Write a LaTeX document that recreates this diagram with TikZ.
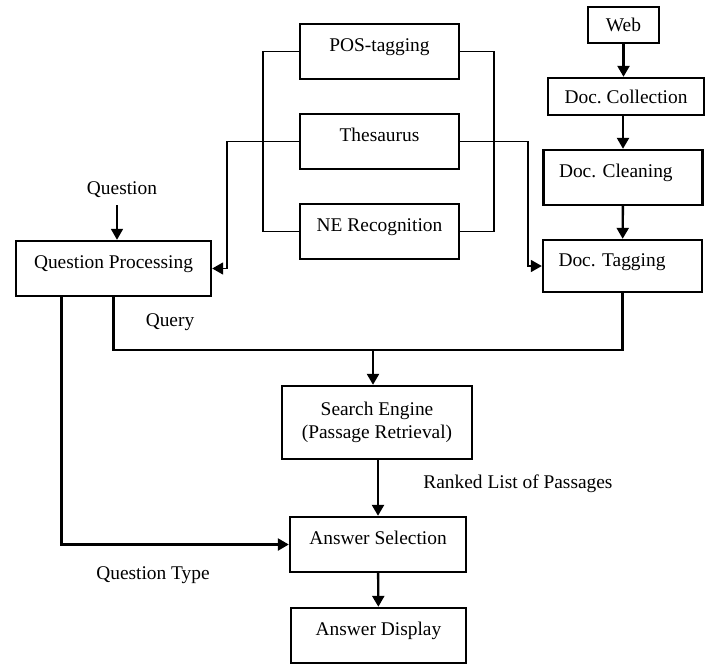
\documentclass[tikz,border=0pt]{standalone}
\usepackage{fontspec}
\setmainfont{Liberation Serif}
\usetikzlibrary{arrows.meta,positioning}

\begin{document}
\begin{tikzpicture}[x=0.5pt,y=-0.5pt,>={Triangle[length=5.5pt,width=6pt]},node distance=45pt,on grid,font=\fontsize{9.7}{11.5}\selectfont]
\tikzstyle{box} = [rectangle,draw=black,line width=1.2pt,inner sep=0pt]
\tikzstyle{tool} = [box,minimum width=79.5pt,minimum height=27.5pt,text height=1ex,text depth=1ex]
\tikzstyle{doc} = [tool,text width=64pt,align=left,inner xsep=7.5pt]
\useasboundingbox (0,0) rectangle (705,664);
    \node[tool] (pos) at (379.5,51.5) {POS-tagging};
    \node[tool] (thes) [below =of pos] {Thesaurus};
    \node[tool] (ne) [below =of thes] {NE Recognition};

    \node[box,minimum width=35.5pt,minimum height=18pt] (web) at (623.5,25) {Web};
    \node[box,minimum width=78pt,minimum height=18.5pt] (coll) at (626,96.5) {Doc.\ Collection};
    \node[doc] (clean) at (623,177.5) {Doc.\ Cleaning};
    \node[doc,minimum height=26pt] (tag) at (622.5,266) {Doc.\ Tagging};

    \node (question) at (122,190) {Question};
    \node[tool,minimum width=97.5pt] (qp) at (113.5,268.5) {Question Processing};
    \node[box,minimum width=95pt,minimum height=36.5pt,align=center] (search) at (377,422.5) {Search Engine\\(Passage Retrieval)};
    \node[tool,minimum width=88pt] (as) at (378,544.5) {Answer Selection};
    \node[tool,minimum width=87.5pt] (ad) at (378.5,635.5) {Answer Display};

    \node (query) at (170,322) {Query};
    \node (qtype) at (153,575) {Question Type};
    \node[anchor=west,inner sep=0pt] (ranked) at (423,484) {Ranked List of Passages};
    \coordinate (join) at (373,350);

    \tikzset{link/.style={line width=0.85pt}}
    \tikzset{arrow/.style={->,line width=1.2pt}}
    % tools feeding both sides
    \draw[link] (pos.west) -- ++(-36,0) |- (ne.west);
    \draw[link] (pos.east) -- ++(34,0) |- (ne.east);
    \draw[link,->] (thes.west) -- ++(-72,0) |- (qp.east);
    \draw[link,->] (thes.east) -- ++(68,0) |- (tag.west);
    \draw[link,->] ([xshift=-2.5pt]question.south) -- ([xshift=-2.5pt]question.south |- qp.north);
    % document side
    \draw[arrow] (web.south) -- (web.south |- coll.north);
    \draw[arrow] (clean.north |- coll.south) -- (clean.north);
    \draw (clean) edge [arrow] (tag);
    % query and answer
    \draw[line width=1.2pt] (qp.south) |- (join) -| (tag.south);
    \draw[arrow] (join) -- (join |- search.north);
    \draw[arrow] (as.north |- search.south) -- (as.north);
    \draw (as) edge [arrow] (ad);
    \draw[arrow] ([xshift=-26pt]qp.south) |- (as.west);
\end{tikzpicture}
\end{document}
